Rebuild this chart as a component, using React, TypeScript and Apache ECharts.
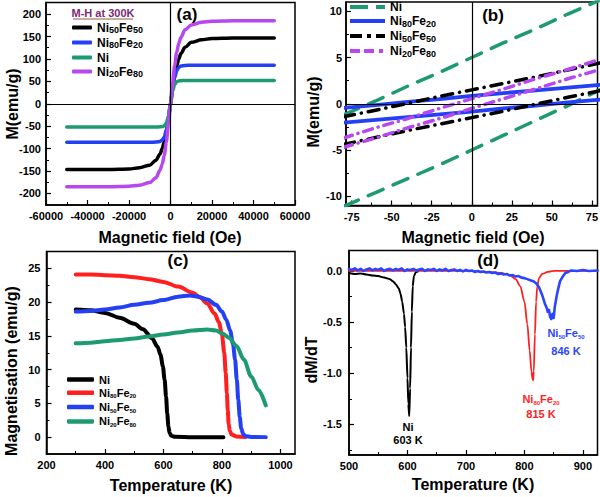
import React, { useEffect, useRef } from 'react';
import * as echarts from 'echarts';

const FONT = '"Liberation Sans", Arial, Helvetica, sans-serif';

// ---------- Panel (a): M-H at 300 K ----------
const H_A = [-50000, -40000, -30000, -20000, -15000, -10000, -7000, -5000, -4000, -3000, -2000, -1000, 0, 1000, 2000, 3000, 4000, 5000, 7000, 10000, 15000, 20000, 30000, 40000, 50000];
const A_NI50FE50 = [-147, -147, -146.5, -145.5, -143, -137, -126, -112, -100, -85, -62, -33, 0, 33, 62, 85, 100, 112, 126, 137, 143, 145.5, 146.5, 147, 147];
const A_NI80FE20 = [-86, -86, -86, -86, -86, -86, -85.5, -84, -81, -74, -58, -32, 0, 32, 58, 74, 81, 84, 85.5, 86, 86, 86, 86, 86, 86];
const A_NI = [-52, -52, -52, -52, -52, -52, -52, -51.5, -51, -49, -43, -28, 0, 28, 43, 49, 51, 51.5, 52, 52, 52, 52, 52, 52, 52];
const A_NI20FE80 = [-185, -185, -185, -184, -182, -176, -165, -148, -135, -115, -85, -45, 0, 45, 85, 115, 135, 148, 165, 176, 182, 184, 185, 185, 185];

// ---------- Panel (b): low-field loops ----------
const H_B = [-80, -60, -40, -20, 0, 20, 40, 60, 80];
const B_NI_UP = [-1.2, 0.3, 1.9, 3.4, 5.0, 6.6, 8.1, 9.7, 11.2];
const B_NI_DN = [-11.1, -9.6, -8.1, -6.6, -5.0, -3.4, -1.8, -0.2, 1.5];
const B_NI80_UP = [-0.45, -0.15, 0.2, 0.5, 0.85, 1.15, 1.45, 1.75, 2.05];
const B_NI80_DN = [-2.05, -1.75, -1.45, -1.15, -0.85, -0.5, -0.2, 0.15, 0.45];
const B_NI50_UP = [-1.4, -0.7, 0.05, 0.8, 1.5, 2.2, 2.9, 3.65, 4.4];
const B_NI50_DN = [-4.4, -3.65, -2.9, -2.2, -1.5, -0.8, -0.05, 0.7, 1.4];
const B_NI20_UP = [-3.7, -2.6, -1.6, -0.5, 0.55, 1.6, 2.7, 3.7, 4.8];
const B_NI20_DN = [-4.7, -3.7, -2.6, -1.6, -0.5, 0.55, 1.6, 2.7, 3.7];

// ---------- Panel (c): M-T ----------
const T_C_NI = [300, 350, 400, 450, 500, 530, 560, 580, 590, 598, 604, 609, 613, 617, 621, 627, 640, 700, 750, 805];
const M_C_NI = [18.9, 18.8, 18.4, 17.7, 16.8, 16.0, 14.7, 13.4, 12.2, 10.5, 8.5, 6.0, 3.5, 1.6, 0.6, 0.2, 0.05, 0.0, 0.0, 0.0];
const T_C_NI80 = [300, 350, 400, 450, 500, 550, 600, 650, 700, 725, 750, 775, 790, 800, 808, 813, 817, 820, 823, 827, 833, 850, 880];
const M_C_NI80 = [24.1, 24.1, 24.0, 23.9, 23.7, 23.4, 23.0, 22.3, 21.4, 20.7, 19.8, 18.3, 17.0, 15.2, 12.5, 9.5, 6.5, 4.0, 2.0, 0.9, 0.4, 0.1, 0.0];
const T_C_NI50 = [300, 350, 400, 450, 500, 550, 600, 650, 690, 720, 750, 780, 800, 815, 828, 838, 845, 851, 856, 861, 866, 872, 880, 900, 950];
const M_C_NI50 = [18.6, 18.7, 18.9, 19.2, 19.6, 19.9, 20.3, 20.8, 21.0, 20.8, 20.4, 19.6, 18.6, 17.4, 15.8, 13.8, 11.5, 8.5, 5.5, 3.0, 1.3, 0.5, 0.15, 0.03, 0.0];
const T_C_NI20 = [300, 350, 400, 450, 500, 550, 600, 650, 700, 750, 780, 800, 825, 850, 875, 900, 925, 950];
const M_C_NI20 = [13.9, 14.0, 14.2, 14.4, 14.6, 14.9, 15.2, 15.5, 15.8, 15.95, 15.8, 15.4, 14.7, 13.5, 11.5, 9.0, 7.0, 4.7];

// ---------- Panel (d): dM/dT ----------
const T_D_NI = [500, 510, 520, 530, 540, 550, 560, 570, 575, 580, 585, 588, 591, 594, 596, 598, 600, 601.5, 603, 604.5, 606, 607.5, 609, 611, 614, 618];
const D_NI = [-0.02, -0.03, -0.025, -0.035, -0.045, -0.05, -0.065, -0.08, -0.1, -0.13, -0.17, -0.22, -0.3, -0.42, -0.55, -0.75, -1.05, -1.3, -1.42, -1.15, -0.75, -0.4, -0.15, -0.05, -0.015, -0.005];
const T_D_NI80 = [500, 600, 700, 740, 760, 775, 785, 793, 800, 805, 809, 812, 814, 815, 816, 818, 820, 822, 825, 830, 840, 850, 925];
const D_NI80 = [0, 0, 0, -0.01, -0.02, -0.04, -0.08, -0.15, -0.3, -0.52, -0.78, -0.98, -1.06, -1.07, -0.98, -0.62, -0.3, -0.15, -0.07, -0.03, -0.01, 0, 0];
const T_D_NI50 = [500, 505, 510, 515, 520, 525, 530, 535, 540, 545, 550, 555, 560, 565, 570, 575, 580, 585, 590, 595, 600, 605, 610, 615, 620, 625, 630, 635, 640, 645, 650, 655, 660, 665, 670, 675, 680, 685, 690, 695, 700, 705, 710, 715, 720, 725, 730, 735, 740, 745, 750, 755, 760, 765, 770, 775, 780, 785, 790, 795, 800, 805, 810, 815, 820, 825, 830, 835, 838, 840, 842, 844, 846, 848, 850, 852, 855, 858, 861, 865, 870, 875, 880, 890, 900, 910, 925];
const D_NI50 = [0.02, 0.01, 0.025, 0.005, 0.02, 0.0, 0.015, 0.025, 0.005, 0.02, 0.01, 0.025, 0.0, 0.015, 0.02, 0.005, 0.02, 0.01, 0.025, 0.0, 0.015, 0.01, 0.02, 0.005, 0.015, 0.02, 0.0, 0.015, 0.01, 0.02, 0.0, 0.015, 0.005, 0.02, 0.0, 0.01, 0.015, 0.0, 0.01, -0.005, 0.01, 0.0, 0.005, -0.01, 0.0, -0.01, -0.005, -0.015, -0.01, -0.02, -0.015, -0.03, -0.025, -0.035, -0.03, -0.045, -0.04, -0.055, -0.05, -0.065, -0.07, -0.08, -0.09, -0.1, -0.12, -0.16, -0.23, -0.32, -0.36, -0.4, -0.38, -0.45, -0.47, -0.42, -0.46, -0.35, -0.25, -0.17, -0.1, -0.06, -0.02, -0.01, 0.005, 0.0, 0.01, 0.0, 0.005];

// ---------- ticks ----------
const A_X_MAJOR = [-60000, -40000, -20000, 0, 20000, 40000, 60000];
const A_X_MINOR = [-50000, -30000, -10000, 10000, 30000, 50000];
const A_Y_MAJOR = [-200, -150, -100, -50, 0, 50, 100, 150, 200];
const A_Y_MINOR = [-175, -125, -75, -25, 25, 75, 125, 175];
const B_X_MAJOR = [-75, -50, -25, 0, 25, 50, 75];
const B_X_MINOR = [-62.5, -37.5, -12.5, 12.5, 37.5, 62.5];
const B_Y_MAJOR = [-10, -5, 0, 5, 10];
const B_Y_MINOR = [-7.5, -2.5, 2.5, 7.5];
const C_X_MAJOR = [200, 400, 600, 800, 1000];
const C_X_MINOR = [300, 500, 700, 900];
const C_Y_MAJOR = [0, 5, 10, 15, 20, 25];
const C_Y_MINOR = [2.5, 7.5, 12.5, 17.5, 22.5];
const D_X_MAJOR = [500, 600, 700, 800, 900];
const D_X_MINOR = [550, 650, 750, 850];
const D_Y_MAJOR = [-1.5, -1.0, -0.5, 0.0];
const D_Y_MINOR = [-1.75, -1.25, -0.75, -0.25];

const C_BLACK = '#000000';
const C_BLUE = '#2340f5';
const C_GREEN = '#1d9a70';
const C_PURPLE = '#b747f0';
const C_RED = '#ff1f1f';
const C_BLUE_D = '#2a45ff';

const NAME_RICH: Record<string, string> = {
  Ni: '{n|Ni}',
  Ni50Fe50: '{n|Ni}{s|50}{n|Fe}{s|50}',
  Ni80Fe20: '{n|Ni}{s|80}{n|Fe}{s|20}',
  Ni20Fe80: '{n|Ni}{s|20}{n|Fe}{s|80}',
};

const pts = (xs: number[], ys: number[]) => xs.map((x, i) => [x, ys[i]]);

function line(name: string, g: number, xs: number[], ys: number[], color: string, width: number, extra: any = {}) {
  return {
    type: 'line',
    name,
    xAxisIndex: g * 2,
    yAxisIndex: g * 2,
    data: pts(xs, ys),
    symbol: 'none',
    showSymbol: false,
    smooth: extra.smooth ?? 0.3,
    smoothMonotone: 'x',
    clip: true,
    z: extra.z ?? 2,
    itemStyle: { color },
    lineStyle: { color, width, cap: 'round', join: 'round', type: extra.type ?? 'solid' },
    ...(extra.markLine ? { markLine: extra.markLine } : {}),
  };
}

function axes(dim: 'x' | 'y', g: number, min: number, max: number, majors: number[], minors: number[], fmt: (v: number) => string, margin: number) {
  const common = {
    type: 'value',
    gridIndex: g,
    min,
    max,
    position: dim === 'x' ? 'bottom' : 'left',
    offset: 0,
    splitLine: { show: false },
    minorTick: { show: false },
  };
  return [
    {
      ...common,
      axisLine: { show: true, onZero: false, lineStyle: { color: '#000', width: 1.5 } },
      axisTick: { show: true, inside: true, length: 5, customValues: majors, lineStyle: { color: '#000', width: 1.2 } },
      axisLabel: { show: true, customValues: majors, formatter: fmt, margin, color: '#000', fontSize: 11, fontWeight: 'bold', fontFamily: FONT },
    },
    {
      ...common,
      axisLine: { show: false, onZero: false },
      axisTick: { show: true, inside: true, length: 3, customValues: minors, lineStyle: { color: '#000', width: 1 } },
      axisLabel: { show: false },
    },
  ];
}

const zeroLines = {
  silent: true,
  symbol: ['none', 'none'],
  label: { show: false },
  lineStyle: { color: '#000', width: 1.2, type: 'solid' },
  data: [{ xAxis: 0 }, { yAxis: 0 }],
};

function txt(text: string, x: number, y: number, size: number, opts: any = {}) {
  return {
    type: 'text',
    x,
    y,
    rotation: opts.rotation ?? 0,
    z: 100,
    style: {
      text,
      font: `bold ${size}px ${FONT}`,
      fill: opts.color ?? '#000',
      align: 'center',
      verticalAlign: 'middle',
      textAlign: 'center',
      textVerticalAlign: 'middle',
      ...(opts.rich ? { rich: opts.rich } : {}),
    },
  };
}

function richFor(size: number, sub: number, color: string) {
  return {
    n: { fontSize: size, fontWeight: 'bold', fontFamily: FONT, lineHeight: size + 2, fill: color, color },
    s: { fontSize: sub, fontWeight: 'bold', fontFamily: FONT, lineHeight: sub, verticalAlign: 'bottom', fill: color, color },
  };
}

const fmtInt = (v: number) => String(v);
const fmtOne = (v: number) => v.toFixed(1);

const ICON_SOLID = 'path://M0,0h35v4H0z';
const ICON_DASH = 'path://M0,0h18v4H0zM26,0h9v4h-9z';
const ICON_DASHDOT = 'path://M0,0h12v4H0zM17,0h4v4h-4zM26,0h9v4h-9z';
const ICON_DASHDOT2 = 'path://M0,0h10v4H0zM14,0h10v4h-10zM29,0h4v4h-4zM35,0h0v4h0z';

export default function App() {
  const ref = useRef<HTMLDivElement>(null);
  useEffect(() => {
    if (!ref.current) return;
    const chart = echarts.init(ref.current, null, { renderer: 'svg' });
    const grids = [
      { left: 46, top: 2.5, width: 249, height: 202.5 },
      { left: 346, top: 2, width: 251.5, height: 203.5 },
      { left: 46.5, top: 251.5, width: 248.5, height: 202.5 },
      { left: 349, top: 250.5, width: 248.5, height: 204.5 },
    ].map((g) => ({ ...g, show: true, borderColor: '#000', borderWidth: 1.5, backgroundColor: 'transparent', containLabel: false, outerBoundsMode: 'none' }));

    const xAxis = [
      ...axes('x', 0, -60000, 60000, A_X_MAJOR, A_X_MINOR, fmtInt, 5),
      ...axes('x', 1, -78.5, 78.5, B_X_MAJOR, B_X_MINOR, fmtInt, 6),
      ...axes('x', 2, 200, 1050, C_X_MAJOR, C_X_MINOR, fmtInt, 5),
      ...axes('x', 3, 500, 925, D_X_MAJOR, D_X_MINOR, fmtInt, 5),
    ];
    const yAxis = [
      ...axes('y', 0, -226, 226, A_Y_MAJOR, A_Y_MINOR, fmtInt, 5),
      ...axes('y', 1, -11, 11, B_Y_MAJOR, B_Y_MINOR, fmtInt, 4),
      ...axes('y', 2, -2.5, 27.5, C_Y_MAJOR, C_Y_MINOR, fmtInt, 6),
      ...axes('y', 3, -1.8, 0.2, D_Y_MAJOR, D_Y_MINOR, fmtOne, 7),
    ];

    const series: any[] = [
      // (a)
      line('a:Ni50Fe50', 0, H_A, A_NI50FE50, C_BLACK, 3.5, { markLine: zeroLines }),
      line('a:Ni80Fe20', 0, H_A, A_NI80FE20, C_BLUE, 3.5),
      line('a:Ni', 0, H_A, A_NI, C_GREEN, 3.5),
      line('a:Ni20Fe80', 0, H_A, A_NI20FE80, C_PURPLE, 3.5),
      // (b)
      line('b:Ni', 1, H_B, B_NI_UP, C_GREEN, 3.5, { type: [16, 11], smooth: false, markLine: zeroLines }),
      line('b:Ni', 1, H_B, B_NI_DN, C_GREEN, 3.5, { type: [16, 11], smooth: false }),
      line('b:Ni80Fe20', 1, H_B, B_NI80_UP, C_BLUE, 3.8, { smooth: false }),
      line('b:Ni80Fe20', 1, H_B, B_NI80_DN, C_BLUE, 3.8, { smooth: false }),
      line('b:Ni50Fe50', 1, H_B, B_NI50_UP, C_BLACK, 3.5, { type: [11, 7, 0.1, 7], smooth: false }),
      line('b:Ni50Fe50', 1, H_B, B_NI50_DN, C_BLACK, 3.5, { type: [11, 7, 0.1, 7], smooth: false }),
      line('b:Ni20Fe80', 1, H_B, B_NI20_UP, C_PURPLE, 3.5, { type: [9, 6, 0.1, 6], smooth: false }),
      line('b:Ni20Fe80', 1, H_B, B_NI20_DN, C_PURPLE, 3.5, { type: [9, 6, 0.1, 6], smooth: false }),
      // (c)
      line('c:Ni', 2, T_C_NI, M_C_NI, C_BLACK, 4),
      line('c:Ni80Fe20', 2, T_C_NI80, M_C_NI80, C_RED, 4),
      line('c:Ni50Fe50', 2, T_C_NI50, M_C_NI50, C_BLUE, 4),
      line('c:Ni20Fe80', 2, T_C_NI20, M_C_NI20, C_GREEN, 4),
      // (d)
      line('d:Ni', 3, T_D_NI, D_NI, C_BLACK, 2, { smooth: 0.2 }),
      line('d:Ni80Fe20', 3, T_D_NI80, D_NI80, C_RED, 1.8, { smooth: 0.3 }),
      line('d:Ni50Fe50', 3, T_D_NI50, D_NI50, C_BLUE_D, 2.6, { smooth: false, z: 3 }),
    ];

    const legendBase = (left: number, top: number, itemWidth: number, itemHeight: number, gap: number, rich: any, data: any[]) => ({
      left,
      top,
      orient: 'vertical',
      itemWidth,
      itemHeight,
      itemGap: gap,
      padding: 0,
      selectedMode: false,
      symbolKeepAspect: false,
      data,
      formatter: (name: string) => NAME_RICH[name.split(':')[1]],
      textStyle: { color: '#000', fontFamily: FONT, fontWeight: 'bold', rich },
    });

    const legend = [
      legendBase(72, 21.5, 20, 4, 2, richFor(12, 9, '#000'), [
        { name: 'a:Ni50Fe50', icon: 'roundRect' },
        { name: 'a:Ni80Fe20', icon: 'roundRect' },
        { name: 'a:Ni', icon: 'roundRect' },
        { name: 'a:Ni20Fe80', icon: 'roundRect' },
      ]),
      legendBase(350, 1, 35, 4, 2, richFor(12, 9, '#000'), [
        { name: 'b:Ni', icon: ICON_DASH },
        { name: 'b:Ni80Fe20', icon: ICON_SOLID },
        { name: 'b:Ni50Fe50', icon: ICON_DASHDOT },
        { name: 'b:Ni20Fe80', icon: ICON_DASHDOT2 },
      ]),
      legendBase(67, 374, 27, 4.5, 2.3, richFor(11, 6, '#000'), [
        { name: 'c:Ni', icon: 'roundRect' },
        { name: 'c:Ni80Fe20', icon: 'roundRect' },
        { name: 'c:Ni50Fe50', icon: 'roundRect' },
        { name: 'c:Ni20Fe80', icon: 'roundRect' },
      ]),
    ];

    const graphic = [
      txt('(a)', 187, 14, 17),
      txt('(b)', 493, 15, 17),
      txt('(c)', 178, 260, 17),
      txt('(d)', 488, 260, 17),
      txt('M(emu/g)', 12, 104, 16, { rotation: Math.PI / 2 }),
      txt('Magnetic field (Oe)', 170, 237, 16),
      txt('M(emu/g)', 313, 112, 16, { rotation: Math.PI / 2 }),
      txt('Magnetic field (Oe)', 473, 237, 16),
      txt('Magnetisation (emu/g)', 11, 371, 16, { rotation: Math.PI / 2 }),
      txt('Temperature (K)', 171, 485, 16),
      txt('dM/dT', 311, 360, 16, { rotation: Math.PI / 2 }),
      txt('Temperature (K)', 473, 484, 16),
      txt('M-H at 300K', 103, 12.5, 11, { color: '#7a2a75' }),
      { type: 'line', z: 100, shape: { x1: 73, y1: 19, x2: 133, y2: 19 }, style: { stroke: '#9a5a3a', lineWidth: 1.2 } },
      txt('Ni', 408, 426.5, 11),
      txt('603 K', 408, 440, 11),
      txt('{n|Ni}{s|80}{n|Fe}{s|20}', 541, 399, 11, { color: C_RED, rich: richFor(11, 6, C_RED) }),
      txt('815 K', 541, 414, 11, { color: C_RED }),
      txt('{n|Ni}{s|50}{n|Fe}{s|50}', 566, 333, 11, { color: C_BLUE_D, rich: richFor(11, 6, C_BLUE_D) }),
      txt('846 K', 566, 351, 11, { color: C_BLUE_D }),
    ];

    chart.setOption({
      animation: false,
      backgroundColor: '#ffffff',
      textStyle: { fontFamily: FONT },
      grid: grids,
      xAxis,
      yAxis,
      legend,
      series,
      graphic,
    });
    return () => chart.dispose();
  }, []);
  return <div ref={ref} style={{ position: 'absolute', left: 0, top: 0, width: 600, height: 497, background: '#fff' }} />;
}
